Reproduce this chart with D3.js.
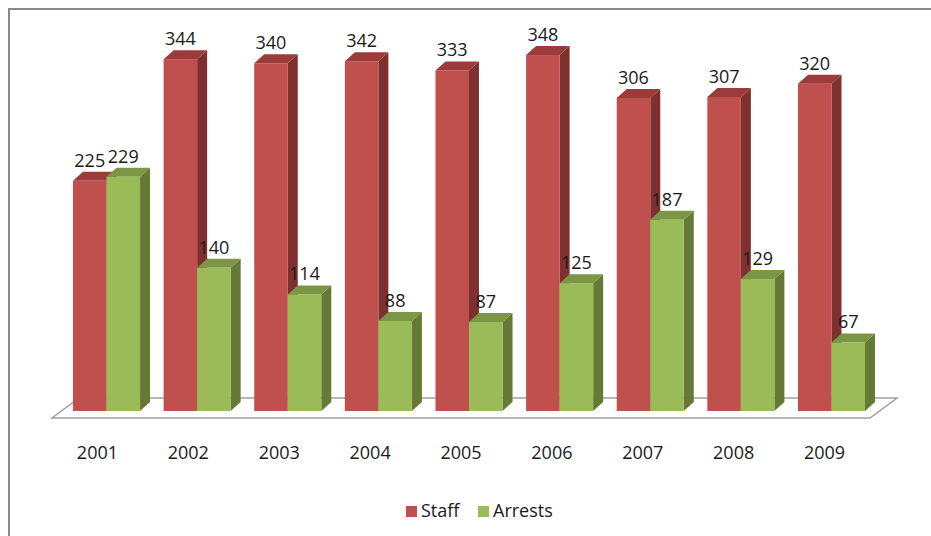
<!DOCTYPE html>
<html>
<head>
<meta charset="utf-8">
<script src="https://cdn.jsdelivr.net/npm/d3@7"></script>
<style>
html,body{margin:0;padding:0;background:#fff;}
svg{display:block;}
text{font-family:"Open Sans",sans-serif;fill:#1a1a1a;}
</style>
</head>
<body>
<svg id="c" width="931" height="536"></svg>
<script>
const years = ["2001","2002","2003","2004","2005","2006","2007","2008","2009"];
const staff = [225,344,340,342,333,348,306,307,320];
const arrests = [229,140,114,88,87,125,187,129,67];
const seriesNames = ["Staff","Arrests"];

const colors = {
  Staff:   {front:"#C0504D", top:"#9C3C3A", side:"#7E302E"},
  Arrests: {front:"#9BBB59", top:"#7B9645", side:"#657A36"}
};

const svg = d3.select("#c");
const W = 931, H = 536;

// frame (only top & left visible)
svg.append("path").attr("d", `M9,${H} L9,9 L${W},9`).attr("fill","none").attr("stroke","#8a8a8a").attr("stroke-width",2);

const y = d3.scaleLinear().domain([0,350]).range([411, 411-358]);
const dx = 10, dy = -9; // bar depth

// bars band
const xBar = d3.scaleBand().domain(years).range([61.2, 876.8]).paddingInner(0.26).paddingOuter(0.13);
const xSub = d3.scaleBand().domain(seriesNames).range([0, xBar.bandwidth()]);
// label band (floor front)
const xLab = d3.scaleBand().domain(years).range([52, 870]);

// floor
const fy = y(0) + 7, fdx = 27, fdy = -20;
const fx0 = xLab.range()[0], fx1 = xLab.range()[1];
svg.append("path")
  .attr("d", `M${fx0},${fy} L${fx1},${fy} L${fx1+fdx},${fy+fdy} L${fx0+fdx},${fy+fdy} Z`)
  .attr("fill","#fff").attr("stroke","#a0a0a0").attr("stroke-width",1.5);

const data = [];
years.forEach((yr,i)=>{
  data.push({year:yr, s:"Staff", v:staff[i]});
  data.push({year:yr, s:"Arrests", v:arrests[i]});
});

const g = svg.append("g");
data.forEach(d=>{
  const x0 = xBar(d.year) + xSub(d.s);
  const w = xSub.bandwidth();
  const y0 = y(0), y1 = y(d.v);
  const c = colors[d.s];
  // side
  g.append("path").attr("d",`M${x0+w},${y0} L${x0+w+dx},${y0+dy} L${x0+w+dx},${y1+dy} L${x0+w},${y1} Z`).attr("fill",c.side);
  // top
  g.append("path").attr("d",`M${x0},${y1} L${x0+dx},${y1+dy} L${x0+w+dx},${y1+dy} L${x0+w},${y1} Z`).attr("fill",c.top);
  // front
  g.append("rect").attr("x",x0).attr("y",y1).attr("width",w).attr("height",y0-y1).attr("fill",c.front);
});

// value labels
svg.append("g").selectAll("text").data(data).join("text")
  .attr("x", d=> xBar(d.year) + xSub(d.s) + xSub.bandwidth()/2)
  .attr("y", d=> y(d.v) - 14)
  .attr("text-anchor","middle").attr("font-size",18)
  .text(d=>d.v);

// category labels
svg.append("g").selectAll("text").data(years).join("text")
  .attr("x", d=> xLab(d) + xLab.bandwidth()/2)
  .attr("y", 459)
  .attr("text-anchor","middle").attr("font-size",18)
  .text(d=>d);

// legend
const leg = [{name:"Staff", x:406},{name:"Arrests", x:478}];
const lg = svg.append("g");
leg.forEach(l=>{
  lg.append("rect").attr("x",l.x).attr("y",506).attr("width",11).attr("height",11).attr("fill",colors[l.name].front);
  lg.append("text").attr("x",l.x+15).attr("y",517).attr("font-size",18).text(l.name);
});
</script>
</body>
</html>
